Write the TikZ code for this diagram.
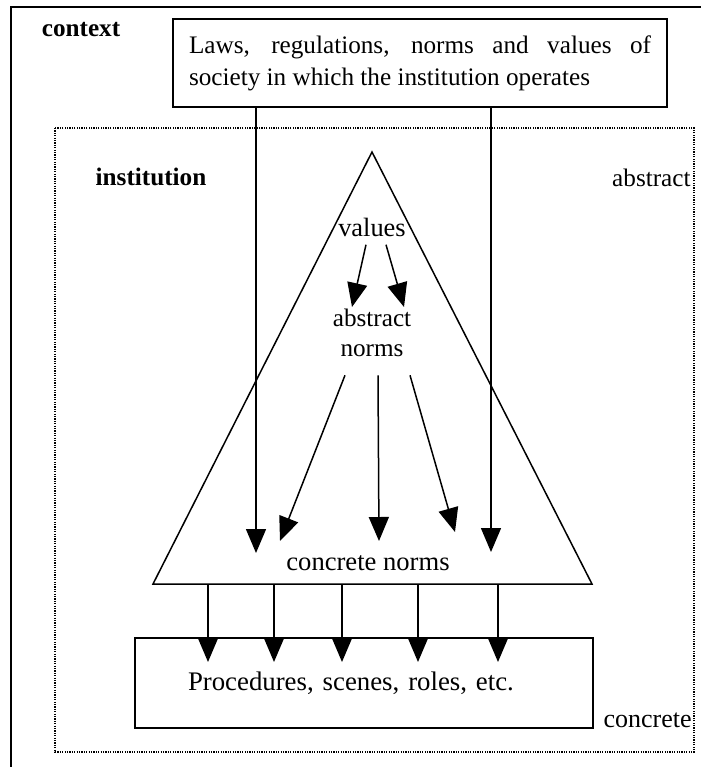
\documentclass[tikz,border=0pt]{standalone}
\usepackage{fontspec}
\setmainfont{Liberation Serif}
\usetikzlibrary{arrows.meta, calc}

\begin{document}
\begin{tikzpicture}[x=0.5pt, y=-0.5pt,
    every node/.style={font=\fontsize{13}{15}\selectfont, inner sep=0pt},
    arr/.style={line width=0.75pt, -{Triangle[length=12pt, width=10pt]}},
    box/.style={draw, line width=0.75pt},
    heading/.style={font=\fontsize{12.6}{15}\selectfont\bfseries}]
    \useasboundingbox (0,0) rectangle (701,767);
    % context frame (open to the right and below)
    \draw[line width=1pt] (11,767) -- (11,7) -- (701,7);
    \node[heading] (context) at (81,30) {context};
    \node[box, font=\fontsize{12.6}{16}\selectfont, minimum width=247pt, minimum height=44pt, text width=231pt, align=justify] (society) at (420,63)
        {Laws, regulations, norms and values of\linebreak society in which the institution operates};
    % institution frame
    \draw[line width=1pt, dash pattern=on 0.6pt off 0.6pt] (55,128) rectangle (694,752);
    \node[heading] (institution) at (151,177) {institution};
    \node[anchor=east, font=\fontsize{12.6}{15}\selectfont] (abstract) at (691,178) {abstract};
    \node[anchor=east] (concrete) at (692,720) {concrete};
    % the triangle
    \coordinate (apex) at (372,152);
    \coordinate (bl) at (153,584);
    \coordinate (br) at (592,584);
    \draw[line width=0.75pt] (apex) -- (bl) -- (br) -- cycle;
    \node[font=\fontsize{13.2}{15}\selectfont] (values) at (372,227) {values};
    \node[align=center, font=\fontsize{12.6}{15}\selectfont] (absnorms) at (372,333) {abstract\\norms};
    \node[font=\fontsize{13.3}{15}\selectfont] (concnorms) at (368,563) {concrete norms};
    \node[box, font=\fontsize{13.4}{15}\selectfont, minimum width=229pt, minimum height=45pt, text width=229pt, align=left] (proc) at (364,683)
        {\hspace*{26.5pt}Procedures, scenes, roles, etc.};
    % arrows from the society box
    \coordinate (s1) at (256,553);
    \coordinate (s2) at (491,552);
    \draw[arr] (society.south -| s1) -- (s1);
    \draw[arr] (society.south -| s2) -- (s2);
    % values to abstract norms
    \coordinate (v1) at (352,307);
    \coordinate (v2) at (404,307);
    \draw[arr] ([xshift=-3pt, yshift=-4pt]values.south) -- (v1);
    \draw[arr] ([xshift=7pt, yshift=-4pt]values.south) -- (v2);
    % abstract norms to concrete norms
    \coordinate (a1) at (280,541);
    \coordinate (a2) at (379,541);
    \coordinate (a3) at (455,532);
    \draw[arr] ([xshift=-13.5pt, yshift=-9pt]absnorms.south) -- (a1);
    \draw[arr] ([xshift=3pt, yshift=-9pt]absnorms.south) -- (a2);
    \draw[arr] ([xshift=19pt, yshift=-9pt]absnorms.south) -- (a3);
    % concrete norms to procedures
    \foreach \i/\x in {1/208, 2/274, 3/342, 4/418, 5/498} {
        \coordinate (t\i) at (\x,662);
        \draw[arr] (bl -| t\i) -- (t\i);
    }
\end{tikzpicture}
\end{document}
